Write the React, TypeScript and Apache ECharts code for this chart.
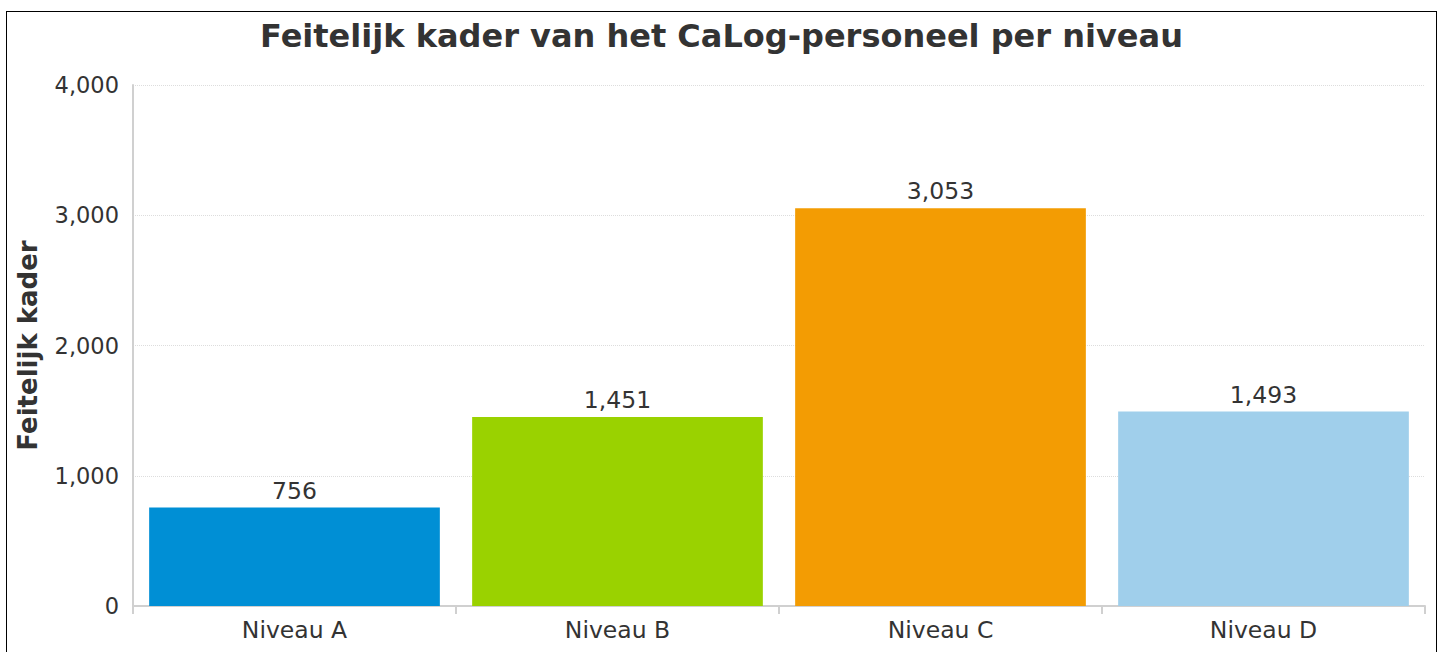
import React, { useEffect, useRef } from "react";
import * as echarts from "echarts";

const categories = ["Niveau A", "Niveau B", "Niveau C", "Niveau D"];
const values = [756, 1451, 3053, 1493];
const barColors = ["#008FD5", "#9AD200", "#F39C03", "#A0CFEB"];
const yTicks = { min: 0, max: 4000, interval: 1000 };

const FONT = "DejaVu Sans";

export default function App() {
  const ref = useRef<HTMLDivElement>(null);
  useEffect(() => {
    document.body.style.margin = "0";
    document.body.style.overflow = "hidden";
    const chart = echarts.init(ref.current!, null, { renderer: "svg" });
    chart.setOption({
      animation: false,
      backgroundColor: "#ffffff",
      textStyle: { fontFamily: FONT, color: "#333333" },
      title: {
        text: "Feitelijk kader van het CaLog-personeel per niveau",
        left: "center",
        top: 3,
        textStyle: { fontFamily: FONT, fontSize: 32, fontWeight: "bold", color: "#333333" },
      },
      grid: { left: 126, right: 11, top: 73, bottom: 46, containLabel: false },
      xAxis: {
        type: "category",
        data: categories,
        axisLine: { show: true, lineStyle: { color: "#d0d0d0", width: 2 } },
        axisTick: { show: true, length: 8, lineStyle: { color: "#d0d0d0", width: 2 } },
        axisLabel: { fontFamily: FONT, fontSize: 23.5, color: "#333333", margin: 12 },
        splitLine: { show: false },
      },
      yAxis: {
        type: "value",
        min: yTicks.min,
        max: yTicks.max,
        interval: yTicks.interval,
        name: "Feitelijk kader",
        nameLocation: "middle",
        nameGap: 92,
        nameTextStyle: { fontFamily: FONT, fontSize: 26, fontWeight: "bold", color: "#333333" },
        axisLine: { show: true, lineStyle: { color: "#d0d0d0", width: 2 } },
        axisTick: { show: false },
        axisLabel: {
          fontFamily: FONT,
          fontSize: 22.5,
          color: "#333333",
          margin: 14,
          formatter: (v: number) => v.toLocaleString("en-US"),
        },
        splitLine: { show: true, lineStyle: { color: "#dddddd", type: "dotted", width: 1 } },
      },
      series: [
        {
          type: "bar",
          data: values.map((v, i) => ({ value: v, itemStyle: { color: barColors[i] } })),
          barCategoryGap: "10%",
          label: {
            show: true,
            position: "top",
            distance: 5,
            fontFamily: FONT,
            fontSize: 23.5,
            color: "#333333",
            formatter: (p: any) => Number(p.value).toLocaleString("en-US"),
          },
        },
      ],
    });
    return () => chart.dispose();
  }, []);
  return (
    <div
      style={{
        position: "fixed",
        left: 6,
        top: 11,
        width: 1431,
        height: 642,
        border: "1px solid #000",
        boxSizing: "border-box",
        background: "#fff",
      }}
    >
      <div ref={ref} style={{ width: 1429, height: 640 }} />
    </div>
  );
}
